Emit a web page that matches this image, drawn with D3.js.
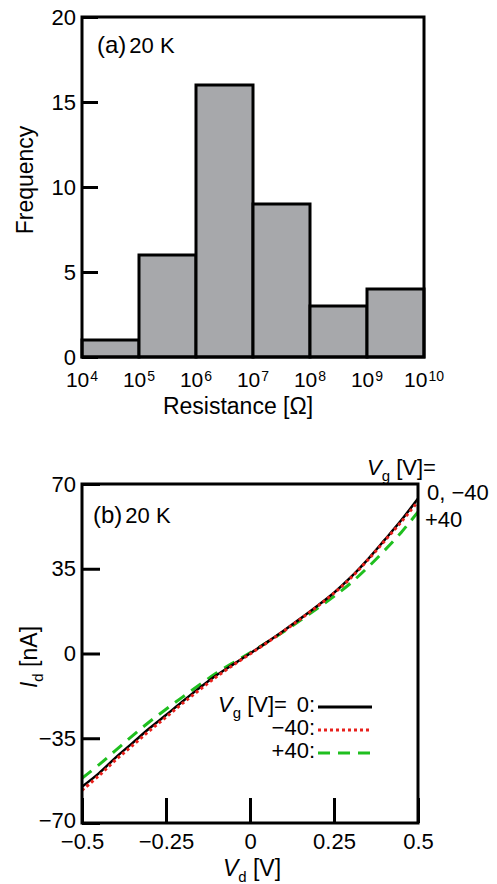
<!DOCTYPE html>
<html>
<head>
<meta charset="utf-8">
<script src="https://cdn.jsdelivr.net/npm/d3@7"></script>
<style>
  html, body { margin: 0; padding: 0; background: #fff; }
  svg { display: block; font-family: "Liberation Sans", Arial, Helvetica, sans-serif; }
  .tick text { font-size: 22px; fill: #000; }
  .tick line { stroke: #000; stroke-width: 3; }
</style>
</head>
<body>
<div id="chart"></div>
<script>
// (a) histogram of resistance at 20 K
var binEdges = [1e4, 1e5, 1e6, 1e7, 1e8, 1e9, 1e10];
var counts = [1, 6, 16, 9, 3, 4];
var freqTicks = [0, 5, 10, 15, 20];
var decadeExp = [4, 5, 6, 7, 8, 9, 10];

// (b) Id-Vd curves at 20 K, three gate voltages
var vd = [-0.5, -0.45, -0.4, -0.35, -0.3, -0.25, -0.2, -0.15, -0.1, -0.05, 0,
          0.05, 0.1, 0.15, 0.2, 0.25, 0.3, 0.35, 0.4, 0.45, 0.5];
var idVg0 = [-55, -49.5, -43, -37, -31, -25.4, -19.7, -14.2, -9, -4.5, 0,
             4.6, 9.4, 14.4, 19.6, 25.1, 31.5, 38.8, 46.8, 55, 64];
var idVgM40 = [-56.5, -50.5, -44, -38, -32, -26.3, -20.5, -15, -9.6, -4.8, -0.2,
               4.4, 9.2, 14.2, 19.4, 24.9, 31.2, 38.5, 46.4, 54.3, 62.8];
var idVgP40 = [-51.5, -46, -40, -34, -28.3, -23, -17.9, -12.9, -8.1, -3.8, 0.3,
               4.5, 9, 13.7, 18.6, 23.6, 29.1, 35.5, 42.5, 50, 58.5];
var vdTicks = [-0.5, -0.25, 0, 0.25, 0.5];
var idTicks = [-70, -35, 0, 35, 70];
var seriesNames = ['0:', '\u221240:', '+40:'];

var W = 497, H = 884;
var fmtMinus = function(v) { return v < 0 ? '\u2212' + Math.abs(v) : String(v); };

var svg = d3.select('#chart').append('svg')
  .attr('width', W)
  .attr('height', H);

// ---------- panel (a) ----------
var pa = { left: 82, top: 17, width: 342, height: 340 };
var ga = svg.append('g').attr('transform', 'translate(' + pa.left + ',' + pa.top + ')');

var xa = d3.scaleLog().domain([1e4, 1e10]).range([0, pa.width]);
var ya = d3.scaleLinear().domain([0, 20]).range([pa.height, 0]);

ga.selectAll('rect.bar')
  .data(counts).enter()
  .append('rect')
  .attr('class', 'bar')
  .attr('x', function(d, i) { return xa(binEdges[i]); })
  .attr('y', function(d) { return ya(d); })
  .attr('width', function(d, i) { return xa(binEdges[i + 1]) - xa(binEdges[i]); })
  .attr('height', function(d) { return ya(0) - ya(d); })
  .attr('fill', '#a7a8ab')
  .attr('stroke', '#000')
  .attr('stroke-width', 3);

var yAxisA = d3.axisLeft(ya).tickValues(freqTicks).tickSize(-16).tickPadding(6);
ga.append('g').call(yAxisA).call(function(g) { g.select('.domain').remove(); })
  .selectAll('text').attr('font-size', 23);

ga.append('rect')
  .attr('width', pa.width).attr('height', pa.height)
  .attr('fill', 'none').attr('stroke', '#000').attr('stroke-width', 3);

// x tick labels as powers of ten, whole label centred on the tick
var xl = ga.selectAll('text.dec')
  .data(decadeExp).enter()
  .append('text')
  .attr('class', 'dec')
  .attr('x', function(d) { return xa(Math.pow(10, d)); })
  .attr('y', pa.height + 30)
  .attr('text-anchor', 'middle')
  .attr('font-size', 21);
xl.append('tspan').text('10');
xl.append('tspan').attr('font-size', 14).attr('dy', -6).attr('dx', 1).text(function(d) { return d; });

ga.append('text')
  .attr('x', 156).attr('y', pa.height + 57)
  .attr('text-anchor', 'middle').attr('font-size', 23)
  .text('Resistance [\u03A9]');

svg.append('text')
  .attr('transform', 'translate(33,' + (pa.top + 163) + ') rotate(-90)')
  .attr('text-anchor', 'middle').attr('font-size', 23)
  .text('Frequency');

var ta = ga.append('text').attr('x', 15).attr('y', 36);
ta.append('tspan').attr('font-size', 24).text('(a)');
ta.append('tspan').attr('font-size', 22).attr('dx', 3).text('20 K');

// ---------- panel (b) ----------
var pb = { left: 82, top: 484, width: 336, height: 339 };
var gb = svg.append('g').attr('transform', 'translate(' + pb.left + ',' + pb.top + ')');

var xb = d3.scaleLinear().domain([-0.5, 0.5]).range([0, pb.width]);
var yb = d3.scaleLinear().domain([-70, 70]).range([pb.height, 0]);

var xAxisB = d3.axisBottom(xb).tickValues(vdTicks).tickSize(-25).tickPadding(10).tickFormat(fmtMinus);
gb.append('g').attr('transform', 'translate(0,' + pb.height + ')')
  .call(xAxisB).call(function(g) { g.select('.domain').remove(); })
  .selectAll('text').attr('font-size', 23);

var yAxisB = d3.axisLeft(yb).tickValues(idTicks).tickSize(-18).tickPadding(6).tickFormat(fmtMinus);
gb.append('g').call(yAxisB).call(function(g) { g.select('.domain').remove(); })
  .selectAll('text').attr('font-size', 23)
  .attr('dy', function(d) { return d === -70 ? '0.2em' : '0.32em'; });

var series = [
  { name: seriesNames[2], values: idVgP40, color: '#1fbf1f', dash: '12,8', width: 3 },
  { name: seriesNames[1], values: idVgM40, color: '#e8201c', dash: '3,3', width: 3 },
  { name: seriesNames[0], values: idVg0, color: '#000', dash: null, width: 2.5 }
];

var line = d3.line()
  .x(function(d) { return xb(d[0]); })
  .y(function(d) { return yb(d[1]); })
  .curve(d3.curveCatmullRom);

// green first, then black, then dotted red on top
var order = [series[0], series[2], series[1]];
gb.selectAll('path.iv')
  .data(order).enter()
  .append('path')
  .attr('class', 'iv')
  .attr('d', function(s) { return line(vd.map(function(v, i) { return [v, s.values[i]]; })); })
  .attr('fill', 'none')
  .attr('stroke', function(s) { return s.color; })
  .attr('stroke-width', function(s) { return s.width; })
  .attr('stroke-dasharray', function(s) { return s.dash; });

gb.append('rect')
  .attr('width', pb.width).attr('height', pb.height)
  .attr('fill', 'none').attr('stroke', '#000').attr('stroke-width', 3);

var tb = gb.append('text').attr('x', 11).attr('y', 39);
tb.append('tspan').attr('font-size', 24).text('(b)');
tb.append('tspan').attr('font-size', 22).attr('dx', 3).text('20 K');

// legend
var legend = [series[2], series[1], series[0]];
var lg = gb.append('g');
lg.selectAll('text.lg')
  .data(legend).enter()
  .append('text')
  .attr('class', 'lg')
  .attr('x', 233)
  .attr('y', function(d, i) { return 228 + i * 23; })
  .attr('text-anchor', 'end')
  .attr('font-size', 22)
  .text(function(d) { return d.name; });
lg.selectAll('line.lg')
  .data(legend).enter()
  .append('line')
  .attr('class', 'lg')
  .attr('x1', 236).attr('x2', 290)
  .attr('y1', function(d, i) { return 223 + i * 23; })
  .attr('y2', function(d, i) { return 223 + i * 23; })
  .attr('stroke', function(d) { return d.color; })
  .attr('stroke-width', 3)
  .attr('stroke-dasharray', function(d) { return d.dash; });

function vgLabel(sel, x, y) {
  var t = sel.append('text').attr('x', x).attr('y', y).attr('font-size', 22);
  t.append('tspan').attr('font-style', 'italic').text('V');
  t.append('tspan').attr('font-size', 15).attr('dy', 6).text('g');
  t.append('tspan').attr('dy', -6).text(' [V]=');
  return t;
}
vgLabel(gb, 136, 228);

// right-hand annotations
vgLabel(svg, 367, 475);
svg.append('text').attr('x', 427).attr('y', 500).attr('font-size', 22).text('0, \u221240');
svg.append('text').attr('x', 425).attr('y', 527).attr('font-size', 22).text('+40');

// axis titles
var xt = svg.append('text').attr('x', 252).attr('y', 876).attr('text-anchor', 'middle').attr('font-size', 23);
xt.append('tspan').attr('font-style', 'italic').text('V');
xt.append('tspan').attr('font-size', 15).attr('dy', 6).text('d');
xt.append('tspan').attr('dy', -6).text(' [V]');

var yt = svg.append('text')
  .attr('transform', 'translate(37,' + (pb.top + 173) + ') rotate(-90)')
  .attr('text-anchor', 'middle').attr('font-size', 23);
yt.append('tspan').attr('font-style', 'italic').text('I');
yt.append('tspan').attr('font-size', 15).attr('dy', 6).text('d');
yt.append('tspan').attr('dy', -6).text(' [nA]');
</script>
</body>
</html>
